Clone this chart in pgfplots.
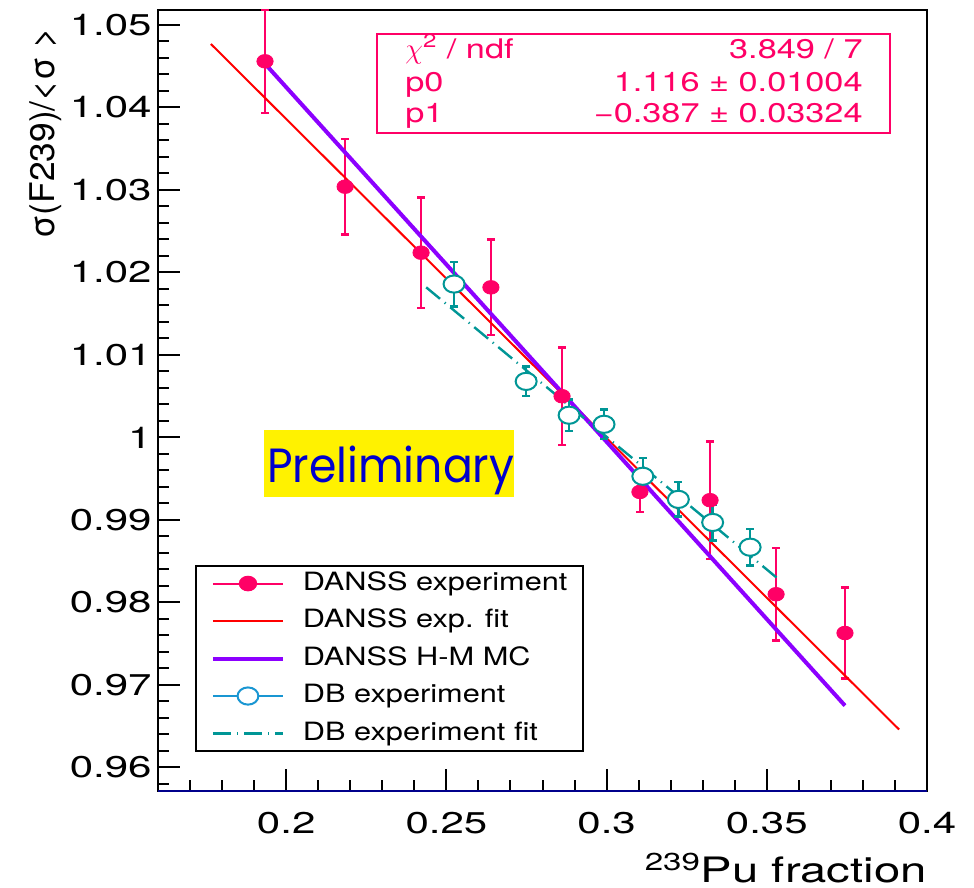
\documentclass[border=0pt]{standalone}
\usepackage{fontspec}
\setmainfont{TeX Gyre Heros}
\newfontfamily\tickfont[FakeStretch=1.4]{TeX Gyre Heros}
\newfontfamily\labelfont[FakeStretch=1.35]{TeX Gyre Heros}
\newfontfamily\ylabfont[FakeStretch=1.04]{TeX Gyre Heros}
\newfontfamily\legfont[FakeStretch=1.22]{TeX Gyre Heros}
\newfontfamily\statfont[FakeStretch=1.27]{TeX Gyre Heros}
\newfontfamily\prelimfont[FakeStretch=0.92]{Poppins}
\usepackage{pgfplots}
\usepackage{pgfplotstable}
\pgfplotsset{compat=1.18}
\usetikzlibrary{calc}

\definecolor{danss}{RGB}{255,0,102}
\definecolor{fitred}{RGB}{255,0,0}
\definecolor{mcviolet}{RGB}{140,0,255}
\definecolor{dbteal}{RGB}{0,150,150}
\definecolor{dblegend}{RGB}{25,150,210}
\definecolor{navyline}{RGB}{0,0,140}
\definecolor{prelimblue}{RGB}{0,0,204}

% DANSS: 239Pu fraction, relative cross section, error
\pgfplotstableread{
x      y       e
0.1934 1.0456 0.0063
0.2184 1.0304 0.0058
0.2421 1.0224 0.0067
0.2639 1.0182 0.0058
0.2861 1.0050 0.0059
0.3104 0.9934 0.0024
0.3323 0.9924 0.0071
0.3529 0.9810 0.0056
0.3744 0.9763 0.0055
}\danssdata

% Daya Bay points
\pgfplotstableread{
x      y       e
0.2524 1.0186 0.0027
0.2749 1.0068 0.0018
0.2883 1.0027 0.0019
0.2992 1.0016 0.0018
0.3113 0.9953 0.0022
0.3224 0.9925 0.0021
0.3331 0.9897 0.0022
0.3448 0.9867 0.0022
}\dbdata

% straight legend sample, 35pt long
\pgfplotsset{
  longline/.style={legend image code/.code={\draw[##1] (0pt,0pt) -- (35pt,0pt);}},
}

\begin{document}
\begin{tikzpicture}
\useasboundingbox (0,0) rectangle (487pt,444pt);
\fill[white] (0,0) rectangle (487pt,444pt);
\begin{axis}[
  scale only axis,
  width=384.5pt, height=390.5pt,
  at={(79pt,48.5pt)}, anchor=south west,
  xmin=0.16, xmax=0.4,
  ymin=0.95715, ymax=1.05182,
  xtick={0.2,0.25,0.3,0.35,0.4},
  xticklabels={0.2,0.25,0.3,0.35,0.4},
  ytick={0.96,0.97,0.98,0.99,1,1.01,1.02,1.03,1.04,1.05},
  yticklabels={0.96,0.97,0.98,0.99,1,1.01,1.02,1.03,1.04,1.05},
  minor xtick={0.16,0.17,...,0.40},
  minor ytick={0.958,0.960,...,1.051},
  xtick pos=left, ytick pos=left,
  tick align=inside,
  major tick length=11pt, minor tick length=5.5pt,
  every tick/.style={black, line width=1pt},
  axis line style={line width=1.4pt},
  xticklabel style={font=\tickfont\fontsize{15}{15}\selectfont, inner sep=0pt, yshift=-10.5pt},
  yticklabel style={font=\tickfont\fontsize{15}{15}\selectfont, inner sep=0pt, xshift=-3pt},
  xlabel={\textsuperscript{239}Pu fraction},
  xlabel style={font=\labelfont\fontsize{17.5}{17.5}\selectfont, inner sep=0pt,
    at={($(rel axis cs:1,0)+(0,-46pt)$)}, anchor=base east},
  ylabel={σ(F239)/<σ >},
  ylabel style={font=\ylabfont\fontsize{17}{17}\selectfont, inner sep=0pt,
    at={($(rel axis cs:0,1)+(-51.5pt,-8.5pt)$)}, anchor=base east},
  legend style={
    at={(rel axis cs:0.0481,0.0499)}, anchor=south west,
    draw=black, line width=1pt, fill=white,
    inner xsep=7.5pt, inner ysep=3pt,
    font=\legfont\fontsize{12.6}{14}\selectfont,
    nodes={inner sep=0pt, text height=9pt, text depth=2.5pt},
    row sep=7.25pt, column sep=9pt},
  legend cell align=left,
  clip=true,
]

% Preliminary tag
\fill[yellow] (rel axis cs:0.1378,0.3764) rectangle (rel axis cs:0.4629,0.4622);
\node[anchor=base west, inner sep=0pt, text=prelimblue,
      font=\prelimfont\fontsize{24}{24}\selectfont]
  at (rel axis cs:0.1417,0.3947) {Preliminary};

% fit statistics box
\draw[danss, line width=1pt, fill=white] (rel axis cs:0.2848,0.9693) rectangle (rel axis cs:0.9519,0.8425);
\begin{scope}[every node/.style={inner sep=0pt, text=danss, font=\statfont\fontsize{13.5}{13.5}\selectfont}]
\node[anchor=base west] at (rel axis cs:0.3212,0.9385) {$\chi$\textsuperscript{2} / ndf};
\node[anchor=base west] at (rel axis cs:0.3212,0.8954) {p0};
\node[anchor=base west] at (rel axis cs:0.3212,0.8557) {p1};
\node[anchor=base east] at (rel axis cs:0.9168,0.9385) {3.849 / 7};
\node[anchor=base east] at (rel axis cs:0.9168,0.8954) {1.116 ± 0.01004};
\node[anchor=base east] at (rel axis cs:0.9168,0.8557) {−0.387 ± 0.03324};
\end{scope}

% DANSS measurement
\addplot[danss, only marks, mark=*, mark size=3.4pt,
  mark options={xscale=1.2, fill=danss, draw=danss},
  legend image code/.code={
    \draw[danss, line width=1pt] (0pt,0pt) -- (35pt,0pt);
    \fill[danss] (17.5pt,0pt) ellipse [x radius=4.1pt, y radius=3.4pt];},
  error bars/.cd, y dir=both, y explicit, error mark=|,
  error bar style={line width=1.2pt, danss},
  error mark options={danss, line width=1.2pt, mark size=2pt}]
  table[x=x, y=y, y error=e] {\danssdata};
\addlegendentry{DANSS experiment}

% DANSS linear fit p0 + p1*x
\addplot[fitred, line width=1pt, no marks, longline] coordinates {(0.1765,1.0477) (0.3913,0.9646)};
\addlegendentry{DANSS exp. fit}

% Huber-Mueller MC prediction
\addplot[mcviolet, line width=2pt, no marks, longline] coordinates {(0.1934,1.0453) (0.3744,0.9675)};
\addlegendentry{DANSS H-M MC}

% Daya Bay error bars first, open markers on top of them
\addplot[dbteal, draw=none, mark=none, forget plot,
  error bars/.cd, y dir=both, y explicit, error mark=|,
  error bar style={line width=1.2pt, dbteal},
  error mark options={dbteal, line width=1.2pt, mark size=2pt}]
  table[x=x, y=y, y error=e] {\dbdata};
\addplot[dbteal, only marks, mark=*, mark size=4.3pt,
  mark options={xscale=1.22, line width=1pt, draw=dbteal, fill=white},
  legend image code/.code={
    \draw[dblegend, line width=1pt] (0pt,0pt) -- (35pt,0pt);
    \draw[dblegend, line width=1pt, fill=white] (17.5pt,0pt) ellipse [x radius=5.2pt, y radius=4.3pt];}]
  table[x=x, y=y] {\dbdata};
\addlegendentry{DB experiment}

% Daya Bay linear fit
\addplot[dbteal, line width=1.2pt, no marks, longline,
  dash pattern=on 9pt off 3pt on 0.6pt off 3pt] coordinates {(0.2437,1.0182) (0.3531,0.9830)};
\addlegendentry{DB experiment fit}

\draw[navyline, line width=1.4pt] (rel axis cs:0,0) -- (rel axis cs:1,0);
\end{axis}
\end{tikzpicture}
\end{document}
